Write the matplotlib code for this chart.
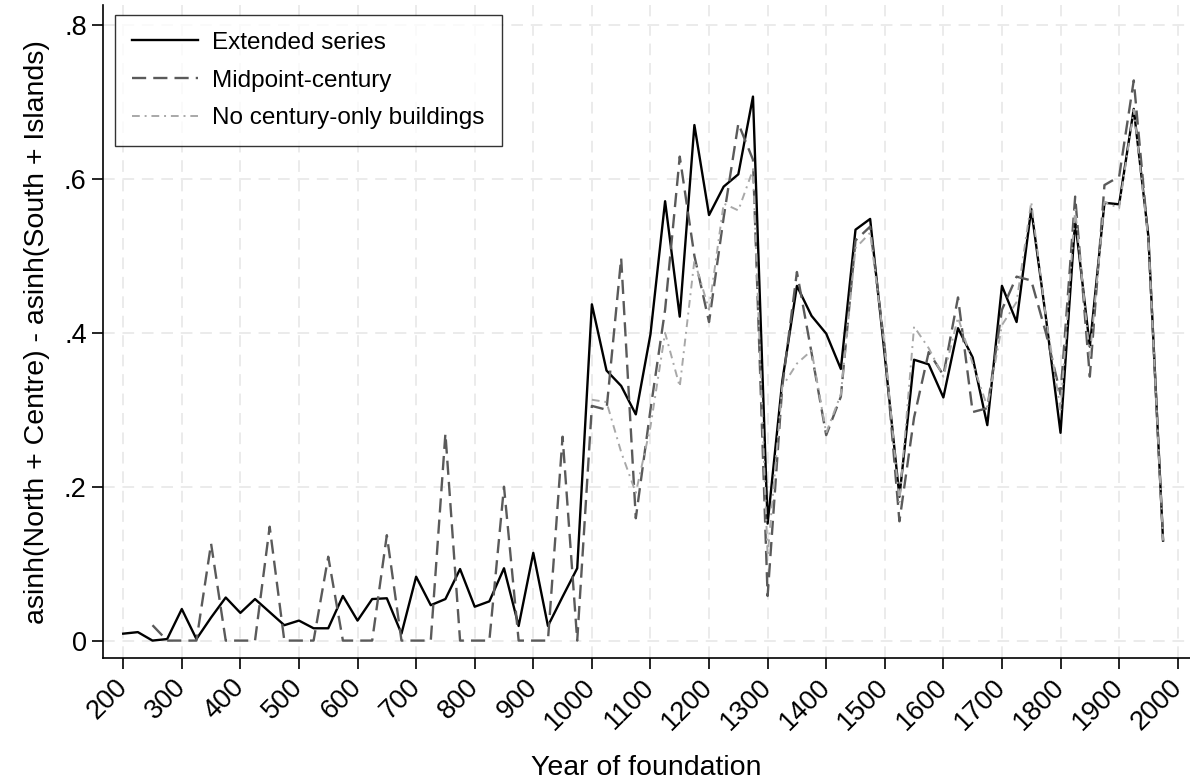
import matplotlib
matplotlib.use("Agg")
import matplotlib.pyplot as plt
import numpy as np

plt.rcParams['font.family'] = ['Liberation Sans', 'DejaVu Sans']

years = np.arange(200, 2000, 25)

extended = [0.009, 0.011, 0.000, 0.002, 0.041, 0.002, 0.030, 0.056, 0.036, 0.054,
            0.037, 0.020, 0.026, 0.016, 0.016, 0.058, 0.026, 0.054, 0.055, 0.009,
            0.083, 0.046, 0.054, 0.093, 0.044, 0.051, 0.094, 0.019, 0.114, 0.019,
            0.057, 0.094, 0.437, 0.351, 0.331, 0.294, 0.398, 0.571, 0.421, 0.670,
            0.553, 0.590, 0.606, 0.707, 0.152, 0.337, 0.461, 0.422, 0.399, 0.353,
            0.534, 0.548, 0.370, 0.187, 0.365, 0.359, 0.316, 0.406, 0.368, 0.280,
            0.461, 0.414, 0.561, 0.420, 0.270, 0.546, 0.382, 0.569, 0.567, 0.691,
            0.525, 0.130]

nan = np.nan
midpoint = [nan, nan, 0.020, 0.0, 0.0, 0.0, 0.126, 0.0, 0.0, 0.0,
            0.148, 0.0, 0.0, 0.0, 0.109, 0.0, 0.0, 0.0, 0.137, 0.0,
            0.0, 0.0, 0.269, 0.0, 0.0, 0.0, 0.200, 0.0, 0.0, 0.0,
            0.265, 0.0, 0.305, 0.300, 0.497, 0.159, 0.300, 0.430, 0.629, 0.500,
            0.414, 0.550, 0.672, 0.625, 0.058, 0.330, 0.479, 0.374, 0.267, 0.317,
            0.520, 0.538, 0.380, 0.155, 0.290, 0.375, 0.345, 0.446, 0.297, 0.302,
            0.430, 0.473, 0.468, 0.400, 0.320, 0.577, 0.343, 0.592, 0.603, 0.728,
            0.520, 0.130]

no_century = [nan] * 32 + [
            0.313, 0.310, 0.245, 0.192, 0.278, 0.400, 0.330, 0.494,
            0.430, 0.568, 0.559, 0.612, 0.110, 0.330, 0.360, 0.377, 0.270, 0.320,
            0.510, 0.530, 0.380, 0.180, 0.408, 0.380, 0.343, 0.420, 0.360, 0.304,
            0.410, 0.440, 0.570, 0.420, 0.300, 0.560, 0.370, 0.570, 0.562, 0.690,
            0.520, 0.130]

fig = plt.figure(figsize=(11.9, 7.82), dpi=100)
ax = fig.add_axes([0.0868, 0.1582, 0.9132, 0.8354])

ax.plot(years, extended, color='black', lw=1.7, label='Extended series', zorder=3)
ax.plot(years, midpoint, color='#5a5a5a', lw=1.7, dashes=(6, 3), label='Midpoint-century', zorder=4)
ax.plot(years, no_century, color='#a8a8a8', lw=1.4, dashes=(4, 2.5, 1, 2.5),
        label='No century-only buildings', zorder=5)

ax.set_xlim(166, 2021)
ax.set_ylim(-0.023, 0.826)
ax.set_xticks(np.arange(200, 2001, 100))
ax.set_yticks([0, 0.2, 0.4, 0.6, 0.8])
ax.set_yticklabels(['0', '.2', '.4', '.6', '.8'])
ax.tick_params(axis='both', labelsize=19.5, length=8, width=1.2, direction='out')
ax.tick_params(axis='y', pad=4)
ax.tick_params(axis='x', pad=10)
for lab in ax.get_xticklabels():
    lab.set_rotation(45)
    lab.set_ha('right')
    lab.set_va('center')
    lab.set_rotation_mode('anchor')

ax.grid(True, color='#ebebeb', lw=1.4, dashes=(6, 4))
ax.set_axisbelow(True)
for s in ['top', 'right']:
    ax.spines[s].set_visible(False)
for s in ['left', 'bottom']:
    ax.spines[s].set_linewidth(1.2)

ax.set_xlabel('Year of foundation', fontsize=20.5, labelpad=14)
ax.set_ylabel('asinh(North + Centre) - asinh(South + Islands)', fontsize=20.5, labelpad=10)

leg = ax.legend(loc='upper left', bbox_to_anchor=(0.011, 0.985), fontsize=17.5,
                frameon=True, fancybox=False, edgecolor='black', handlelength=2.7,
                borderpad=0.7, labelspacing=0.65, handletextpad=0.6, borderaxespad=0)
leg.get_frame().set_linewidth(1.0)

fig.patch.set_facecolor('white')
fig.savefig('out.png', dpi=100, facecolor='white')
